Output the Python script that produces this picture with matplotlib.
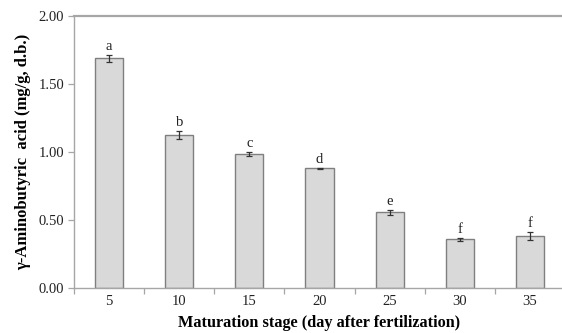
import matplotlib
matplotlib.use("Agg")
import matplotlib.pyplot as plt
from matplotlib.ticker import FixedLocator, NullFormatter

categories = ["5", "10", "15", "20", "25", "30", "35"]
values = [1.687, 1.126, 0.982, 0.879, 0.556, 0.357, 0.382]
errors = [0.024, 0.03, 0.016, 0.004, 0.018, 0.009, 0.03]
letters = ["a", "b", "c", "d", "e", "f", "f"]
yticks = [0.0, 0.5, 1.0, 1.5, 2.0]

plt.rcParams['font.family'] = ['Liberation Serif', 'DejaVu Serif']

fig = plt.figure(figsize=(5.62, 3.33), dpi=100)
ax = fig.add_axes([74/562, 45/333, 491/562, 272.3/333])

x = list(range(1, len(categories) + 1))
ax.bar(x, values, width=0.4, color="#d9d9d9", edgecolor="#7f7f7f", linewidth=1.0, zorder=2)
ax.errorbar(x, values, yerr=errors, fmt="none", ecolor="#333333", elinewidth=0.9,
            capsize=2.5, capthick=0.9, zorder=3)
for xi, v, e, l in zip(x, values, errors, letters):
    ax.annotate(l, (xi, v + e), xytext=(0, 1.5), textcoords="offset points",
                ha="center", va="bottom", fontsize=10.5, color="#222222")

ax.set_xlim(0.5, len(categories) + 0.5)
ax.set_ylim(0, 2.0)
ax.set_yticks(yticks)
ax.set_yticklabels([f"{t:.2f}" for t in yticks], fontsize=10.5, color="#222222")
ax.set_xticks(x)
ax.set_xticklabels(categories, fontsize=10.5, color="#222222")
ax.xaxis.set_minor_locator(FixedLocator([i + 0.5 for i in range(0, len(categories) + 1)]))
ax.xaxis.set_minor_formatter(NullFormatter())
ax.tick_params(axis="x", which="major", length=0, pad=5)
ax.tick_params(axis="x", which="minor", length=4, color="#a6a6a6", width=0.9)
ax.tick_params(axis="y", which="major", length=4, color="#a6a6a6", width=0.9, pad=3)

for s in ["left", "bottom", "top"]:
    ax.spines[s].set_color("#a6a6a6")
    ax.spines[s].set_linewidth(1.0)
ax.spines["top"].set_linewidth(1.6)
ax.spines["right"].set_visible(False)

ax.set_xlabel("Maturation stage (day after fertilization)", fontsize=11.7, fontweight="bold", labelpad=5)
ax.set_ylabel("γ-Aminobutyric  acid (mg/g, d.b.)", fontsize=12, fontweight="bold", labelpad=5)

fig.savefig("out.png", dpi=100)
